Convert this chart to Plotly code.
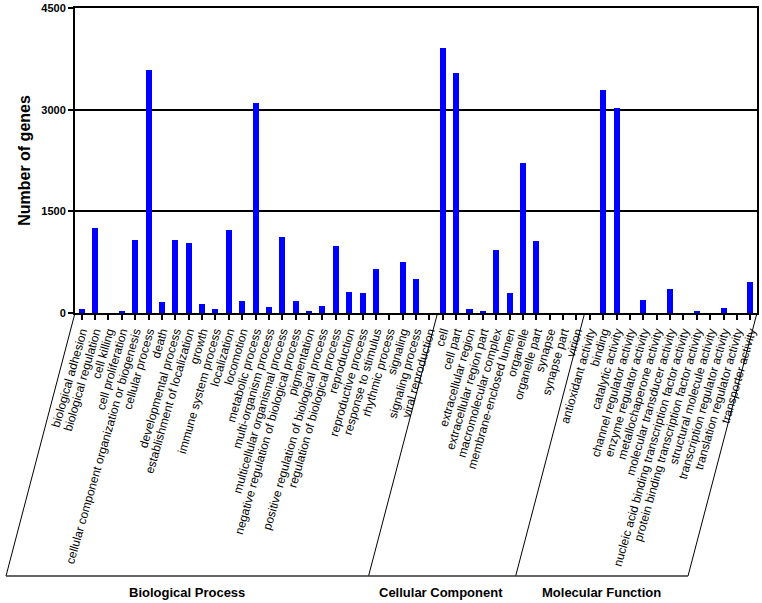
import plotly.graph_objects as go

# GO level-2 terms and gene counts, one list per ontology
bp_terms = ["biological adhesion", "biological regulation", "cell killing", "cell proliferation",
            "cellular component organization or biogenesis", "cellular process", "death",
            "developmental process", "establishment of localization", "growth",
            "immune system process", "localization", "locomotion", "metabolic process",
            "multi-organism process", "multicellular organismal process",
            "negative regulation of biological process", "pigmentation",
            "positive regulation of biological process", "regulation of biological process",
            "reproduction", "reproductive process", "response to stimulus", "rhythmic process",
            "signaling", "signaling process", "viral reproduction"]
bp_counts = [65, 1249, 0, 30, 1072, 3589, 157, 1077, 1028, 133, 59, 1229, 182, 3103,
             84, 1126, 172, 15, 110, 995, 308, 300, 654, 0, 747, 502, 0]

cc_terms = ["cell", "cell part", "extracellular region", "extracellular region part",
            "macromolecular complex", "membrane-enclosed lumen", "organelle", "organelle part",
            "synapse", "synapse part", "virion"]
cc_counts = [3914, 3535, 64, 30, 929, 295, 2213, 1062, 0, 0, 0]

mf_terms = ["antioxidant activity", "binding", "catalytic activity", "channel regulator activity",
            "enzyme regulator activity", "metallochaperone activity",
            "molecular transducer activity",
            "nucleic acid binding transcription factor activity",
            "protein binding transcription factor activity", "structural molecule activity",
            "transcription regulator activity", "translation regulator activity",
            "transporter activity"]
mf_counts = [0, 3294, 3019, 0, 187, 0, 349, 0, 35, 0, 80, 0, 460]

group_names = ["Biological Process", "Cellular Component", "Molecular Function"]
y_ticks = [0, 1500, 3000, 4500]

terms = bp_terms + cc_terms + mf_terms
counts = bp_counts + cc_counts + mf_counts
sizes = [len(bp_terms), len(cc_terms), len(mf_terms)]
n = len(terms)

W, H = 762, 603
ml, mr, mt, mb = 75, 5, 8, 290
pw, ph = W - ml - mr, H - mt - mb

font = "Arial, Liberation Sans, sans-serif"

fig = go.Figure(go.Bar(x=terms, y=counts, marker=dict(color="#0000FF", line_width=0), width=0.45))

# group brackets drawn as slanted parallelogram under the tick labels
slant = 69 / pw          # horizontal shift of the bracket bottom (paper units)
ybot = -263 / ph
bounds = [0]
for s in sizes:
    bounds.append(bounds[-1] + s)
shapes = []
for i, b in enumerate(bounds):
    xt = b / n
    if 0 < i < len(bounds) - 1:
        xt += 1.5 / pw   # inner dividers sit just right of the boundary
    shapes.append(dict(type="line", xref="paper", yref="paper", x0=xt, y0=0,
                       x1=xt - slant, y1=ybot, line=dict(color="black", width=1)))
shapes.append(dict(type="line", xref="paper", yref="paper", x0=-slant, y0=ybot,
                   x1=1 - slant, y1=ybot, line=dict(color="#333333", width=1.5)))

annotations = []
for name, a, b in zip(group_names, bounds[:-1], bounds[1:]):
    xc = (a + b) / 2 / n - slant
    annotations.append(dict(xref="paper", yref="paper", x=xc, y=-279 / ph, text=name,
                            xanchor="center", yanchor="middle", showarrow=False,
                            font=dict(family=font, size=13, color="black", weight="bold")))

fig.update_layout(
    width=W, height=H,
    margin=dict(l=ml, r=mr, t=mt, b=mb),
    plot_bgcolor="white", paper_bgcolor="white",
    showlegend=False, bargap=0,
    shapes=shapes, annotations=annotations,
    xaxis=dict(type="category", categoryorder="array", categoryarray=terms,
               range=[-0.5, n - 0.5], tickangle=-74, automargin=False,
               tickmode="array", tickvals=terms, ticktext=terms,
               tickfont=dict(family=font, size=12, color="black"),
               ticks="outside", ticklen=5, tickwidth=1.5, tickcolor="black",
               showline=True, linecolor="black", linewidth=2, mirror=True,
               showgrid=False),
    yaxis=dict(range=[0, 4500], tickvals=y_ticks, automargin=False,
               tickfont=dict(family=font, size=11, color="black", weight="bold"),
               ticks="outside", ticklen=5, tickwidth=2, tickcolor="black",
               showline=True, linecolor="black", linewidth=2, mirror=True,
               showgrid=True, gridcolor="black", gridwidth=2, zeroline=False,
               title=dict(text="Number of genes", standoff=7,
                          font=dict(family=font, size=16, color="black", weight="bold"))),
)

fig.write_html("out.html", config={"displayModeBar": False},
               post_script="document.body.style.margin='0';")
